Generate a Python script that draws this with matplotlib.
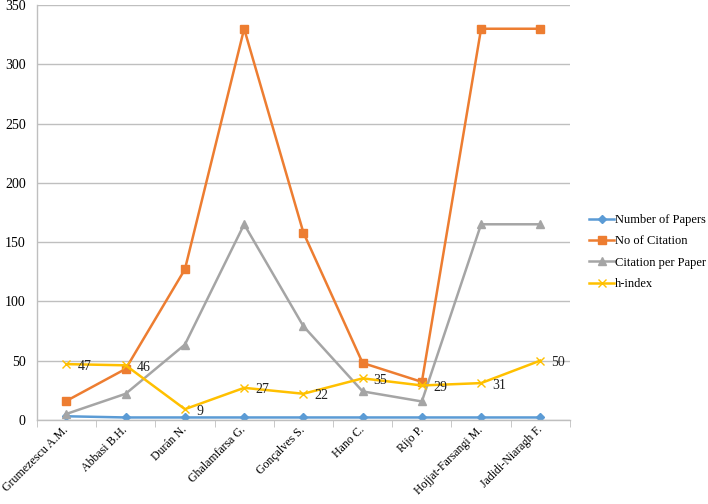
import matplotlib.pyplot as plt
import matplotlib.transforms as mtransforms
import numpy as np

authors = ["Grumezescu A.M.", "Abbasi B.H.", "Durán N.", "Ghalamfarsa G.",
           "Gonçalves S.", "Hano C.", "Rijo P.", "Hojjat-Farsangi M.",
           "Jadidi-Niaragh F."]
num_papers = [3, 2, 2, 2, 2, 2, 2, 2, 2]
no_citation = [16, 43, 127, 330, 158, 48, 32, 330, 330]
cit_per_paper = [5, 22, 63.5, 165, 79, 24, 15.5, 165, 165]
h_index = [47, 46, 9, 27, 22, 35, 29, 31, 50]

plt.rcParams["font.family"] = ["Liberation Serif", "DejaVu Serif"]

fig = plt.figure(figsize=(7.08, 5.04), dpi=100)
ax = fig.add_axes([0.052, 0.167, 0.753, 0.823])

x = np.arange(len(authors))
ax.plot(x, num_papers, color="#5B9BD5", marker="D", markersize=4, lw=1.8,
        label="Number of Papers")
ax.plot(x, no_citation, color="#ED7D31", marker="s", markersize=6, lw=1.8,
        label="No of Citation")
ax.plot(x, cit_per_paper, color="#A5A5A5", marker="^", markersize=6, lw=1.8,
        label="Citation per Paper")
ax.plot(x, h_index, color="#FFC000", marker="x", markersize=6, lw=1.8,
        label="h-index")

# подписи значений h-index
for xi, v in zip(x, h_index):
    ax.annotate(str(v), (xi, v), xytext=(8, -1.5), textcoords="offset points",
                va="center", ha="left", fontsize=10, color="#222222")

ax.set_xlim(-0.5, len(authors) - 0.5)
ax.set_ylim(0, 350)
ax.set_yticks(range(0, 351, 50))
ax.set_xticks(x)
ax.set_xticklabels(authors, rotation=45, ha="right", va="center",
                   rotation_mode="anchor", fontsize=8.6)
# небольшой сдвиг подписей вправо, как в оригинале
shift = mtransforms.ScaledTranslation(6 / 100, 0, fig.dpi_scale_trans)
for lbl in ax.get_xticklabels():
    lbl.set_transform(lbl.get_transform() + shift)
ax.set_xticks(np.arange(-0.5, len(authors), 1), minor=True)
ax.tick_params(axis="x", which="major", length=0, pad=6)
ax.tick_params(axis="x", which="minor", length=5, color="#BFBFBF")
ax.tick_params(axis="y", length=0, labelsize=10, pad=8)

ax.grid(axis="y", color="#BFBFBF", lw=1)
ax.set_axisbelow(True)
for s in ["top", "right"]:
    ax.spines[s].set_visible(False)
for s in ["left", "bottom"]:
    ax.spines[s].set_color("#BFBFBF")
    ax.spines[s].set_linewidth(1)

fig.legend(handles=ax.get_lines(), loc="upper left",
           bbox_to_anchor=(589 / 708, 1 - 214 / 504), frameon=False,
           fontsize=9, handlelength=2.0, handletextpad=0.1,
           labelspacing=0.75, borderpad=0, borderaxespad=0)

fig.savefig("out.png", dpi=100)
